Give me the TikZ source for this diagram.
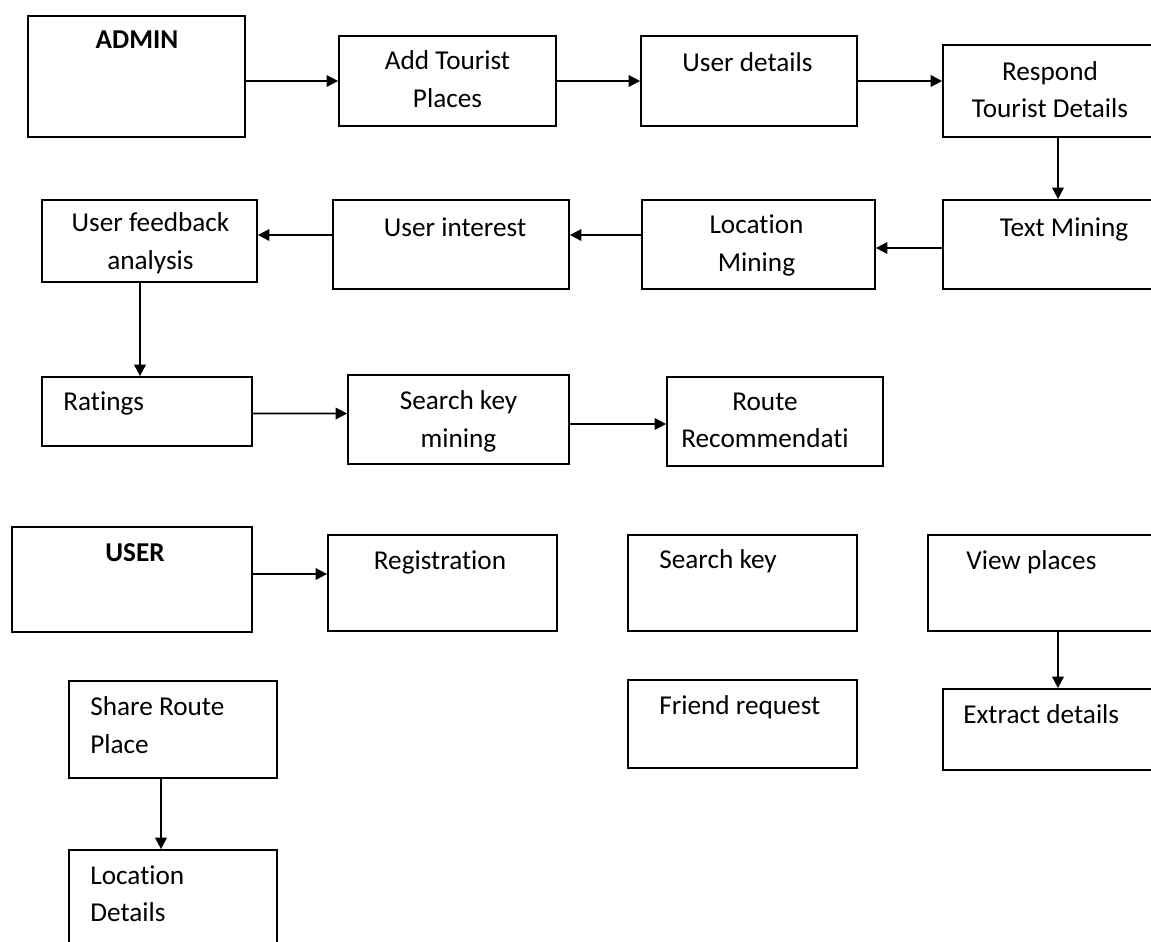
\documentclass[tikz,border=0pt]{standalone}
\usepackage{fontspec}
\setmainfont{Carlito}[Ligatures=NoCommon]
\usepackage{tikz}
\usetikzlibrary{arrows.meta,calc,positioning}

\begin{document}
\begin{tikzpicture}[every node/.style={font=\fontsize{15.5}{21.3}\selectfont},
  box/.style={draw, line width=1pt, inner sep=0pt},
  txt/.style={inner sep=0pt},
  flow/.style={-{Triangle[length=2.3mm, width=2.3mm]}, line width=1.1pt}]
  \useasboundingbox (0,0) rectangle (23.02,-18.84);
  % frames of the steps
  \foreach \nm/\x/\y/\w/\h in {admin/2.73/-1.53/4.34/2.42, addplace/8.95/-1.62/4.34/1.80,
      userdet/14.98/-1.62/4.32/1.80, respond/21.16/-1.82/4.60/1.84,
      textmin/21.16/-4.89/4.60/1.78, locmin/15.17/-4.89/4.66/1.78,
      userint/9.02/-4.89/4.72/1.78, feedback/2.99/-4.82/4.30/1.64,
      ratings/2.94/-8.23/4.20/1.38, keymin/9.17/-8.39/4.42/1.78,
      route/15.50/-8.43/4.32/1.78, user/2.64/-11.59/4.80/2.10,
      regist/8.85/-11.66/4.58/1.92, searchkey/14.85/-11.66/4.58/1.92,
      viewpl/21.16/-11.66/5.20/1.92, friendreq/14.85/-14.48/4.58/1.76,
      extract/21.16/-14.59/4.60/1.62, share/3.46/-14.59/4.16/1.94,
      locdet/3.46/-18.00/4.16/2.00} {
    \node[box, minimum width=\w cm, minimum height=\h cm] (\nm) at (\x,\y) {};
  }
  % centred labels (y is the baseline of the last line)
  \foreach \nm/\x/\y/\t in {admin/2.74/-0.97/\textbf{ADMIN}, addplace/8.95/-2.14/{Add Tourist\\Places},
      userdet/14.95/-1.43/{User details}, respond/21.00/-2.35/{Respond\\Tourist Details},
      textmin/21.28/-4.72/{Text Mining}, locmin/15.13/-5.42/{Location\\Mining},
      userint/9.10/-4.72/{User interest}, feedback/3.01/-5.38/{User feedback\\analysis},
      keymin/9.17/-8.94/{Search key\\mining}, route/15.30/-8.95/{Route\\Recommendati},
      user/2.70/-11.23/\textbf{USER}, regist/8.80/-11.38/{Registration}} {
    \node[txt, align=center, anchor=base] (\nm-t) at (\x,\y) {\t};
  }
  % labels set from the left
  \foreach \nm/\x/\y/\t in {ratings/1.26/-8.20/{Ratings}, searchkey/13.18/-11.36/{Search key},
      viewpl/19.32/-11.38/{View places}, friendreq/13.18/-14.28/{Friend request},
      extract/19.26/-14.47/{Extract details}, share/1.80/-15.06/{Share Route\\Place},
      locdet/1.80/-18.43/{Location\\Details}} {
    \node[txt, align=left, anchor=base west] (\nm-t) at (\x,\y) {\t};
  }
  % admin flow
  \draw[flow] (admin.east |- addplace.west) -- (addplace.west);
  \draw[flow] (addplace) -- (userdet);
  \draw[flow] (userdet.east) -- (userdet.east -| respond.west);
  \draw[flow] (respond) -- (textmin);
  \draw[flow] ([yshift=-0.07cm]textmin.west) -- ([yshift=-0.07cm]locmin.east);
  \draw[flow] ([yshift=0.19cm]locmin.west) -- ([yshift=0.19cm]userint.east);
  \draw[flow] ([yshift=0.19cm]userint.west) -- ([yshift=0.12cm]feedback.east);
  \draw[flow] ([xshift=-0.19cm]feedback.south) -- ([xshift=-0.14cm]ratings.north);
  \draw[flow] ([yshift=-0.04cm]ratings.east) -- ([yshift=0.12cm]keymin.west);
  \draw[flow] ([yshift=-0.09cm]keymin.east) -- ([yshift=-0.05cm]route.west);
  % user flow
  \draw[flow] ([yshift=0.11cm]user.east) -- ([yshift=0.18cm]regist.west);
  \draw[flow] (viewpl) -- (extract);
  \draw[flow] ([xshift=-0.24cm]share.south) -- ([xshift=-0.24cm]locdet.north);
\end{tikzpicture}
\end{document}
